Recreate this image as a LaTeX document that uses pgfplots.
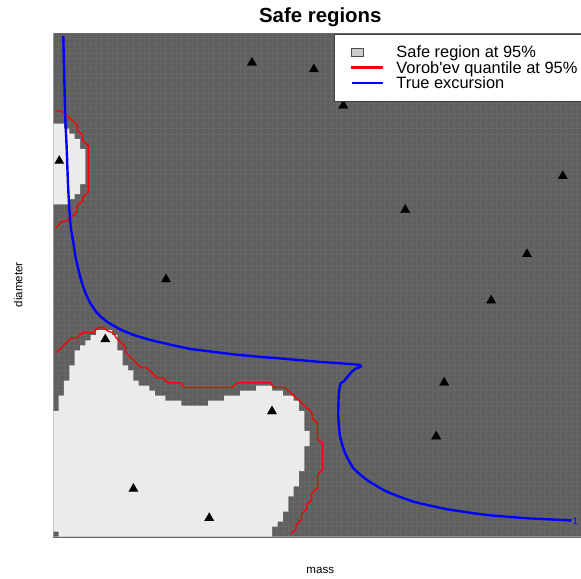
\documentclass[border=0pt]{standalone}
\usepackage{pgfplots}
\pgfplotsset{compat=1.18}
\usepackage{fontspec}
\setmainfont{Liberation Sans}
\definecolor{bgdark}{RGB}{95,95,95}
\definecolor{gridc}{RGB}{103,103,103}
\definecolor{safe}{RGB}{235,235,235}
\definecolor{legbox}{RGB}{204,204,204}
\definecolor{axisc}{RGB}{150,150,150}
\definecolor{vred}{RGB}{255,0,0}
\pgfplotsset{layers/mylayers/.define layer set={axis background,axis grid,main,axis ticks,axis lines,axis tick labels,axis descriptions,axis foreground}{}}
\pgfplotsset{every axis title shift=0pt}
\begin{document}
\begin{tikzpicture}
\begin{axis}[
 at={(0pt,0pt)}, anchor=south west,
 scale only axis, width=400.5pt, height=377.775pt,
 xmin=0, xmax=100, ymin=0, ymax=100,
 set layers=mylayers,
 axis background/.style={fill=bgdark},
 axis x line*=bottom, axis y line*=left,
 axis line style={draw=axisc, line width=0.6pt},
 xtick={0,1,...,100}, ytick={0,1,...,100},
 xticklabels={}, yticklabels={},
 major tick length=0pt,
 grid=major, major grid style={draw=gridc, line width=0.3pt},
 xlabel={mass}, ylabel={diameter},
 x label style={at={(axis description cs:0.5,-0.074)}, anchor=base, font=\fontsize{8.7}{10}\selectfont},
 y label style={at={(axis description cs:-0.0577,0.5)}, anchor=base, font=\fontsize{8.7}{10}\selectfont},
 title={Safe regions},
 title style={at={(axis description cs:0.5,1.0208)}, anchor=base, font=\bfseries\fontsize{15.3}{18}\selectfont},
 legend style={at={(rel axis cs:0.526,0.999)}, anchor=north west, draw=black!75, fill=white,
   font=\fontsize{12.3}{13}\selectfont, inner xsep=12.15pt, inner ysep=7.9pt, row sep=0pt, column sep=9.6pt,
   nodes={inner sep=0pt, text height=10.1pt, text depth=1.4pt}},
 legend cell align=left,
]
% safe region, upper left
\addplot[fill=safe, draw=none, forget plot] coordinates {
(0,66) (0,82) (2,82) (2,81) (3,81) (3,80) (4,80) (4,79) (5,79) (5,77) (6,77) (6,70) (5,70) (5,68) (4,68) (4,67) (3,67) (3,66)
};
% safe region, lower left
\addplot[fill=safe, draw=none,
  legend image code/.code={\draw[fill=legbox, draw=black!70, line width=0.4pt] (0pt,-3.15pt) rectangle (8.8pt,3.15pt); \path[draw=none,fill=none] (0pt,0pt) -- (23.25pt,0pt);}] coordinates {
(0,1) (0,25) (1,25) (1,28) (2,28) (2,31) (3,31) (3,34) (4,34) (4,37) (5,37) (5,38) (6,38) (6,39) (7,39) (7,40) (8,40) (8,41) (11,41) (11,40) (12,40) (12,37) (13,37) (13,34) (14,34) (14,33) (15,33) (15,31) (16,31) (16,30) (18,30) (18,29) (19,29) (19,28) (21,28) (21,27) (24,27) (24,26) (29,26) (29,27) (32,27) (32,28) (35,28) (35,29) (38,29) (38,30) (41,30) (41,29) (43,29) (43,28) (45,28) (45,27) (46,27) (46,25) (47,25) (47,21) (48,21) (48,18) (47,18) (47,13) (46,13) (46,10) (45,10) (45,8) (44,8) (44,5) (43,5) (43,3) (42,3) (42,2) (41,2) (41,0) (1,0) (1,1)
};
\addlegendentry{Safe region at 95\%}
% Vorob'ev quantile, upper
\addplot[draw=vred, line width=1pt, line join=round, forget plot] coordinates {
(0.51,84.50) (1.57,84.50) (2.38,83.80) (4.49,81.71) (4.49,80.68) (5.51,79.72) (5.51,78.69) (6.55,77.63) (6.55,68.41) (5.51,67.41) (5.51,66.73) (4.49,65.74) (4.49,64.54) (3.45,63.49) (2.51,62.79) (1.57,62.55) (0.51,61.43)
};
% Vorob'ev quantile, lower
\addplot[draw=vred, line width=1pt, line join=round,
  legend image code/.code={\fill[vred] (0pt,-0.4pt) rectangle (23.25pt,0.4pt);}] coordinates {
(0.51,36.53) (3.45,39.52) (4.44,39.52) (5.51,40.52) (7.49,40.52) (8.37,41.51) (9.31,41.51) (10.30,40.78) (11.24,40.52) (11.74,39.52) (13.43,37.85) (13.61,36.53) (16.42,33.55) (17.49,33.55) (19.42,31.55) (20.49,31.55) (21.48,30.56) (23.73,30.56) (24.57,29.62) (33.41,29.62) (34.40,30.56) (40.58,30.56) (41.33,29.62) (43.39,29.62) (48.39,24.70) (48.54,23.45) (49.44,22.59) (49.44,19.46) (50.41,18.47) (50.41,13.29) (49.48,12.29) (49.48,9.64) (48.39,8.65) (48.39,7.31) (47.45,6.31) (47.45,5.46) (46.44,4.52) (46.44,3.33) (45.45,2.33) (45.45,1.47) (44.42,0.54)
};
\addlegendentry{Vorob\textquotesingle ev quantile at 95\%}
% true excursion
\addplot[draw=blue, line width=1.8pt, line join=round, smooth, tension=0.3,
  legend image code/.code={\draw[draw=blue, line width=1.5pt] (0pt,0pt) -- (23.25pt,0pt);}] coordinates {
(1.87,99.4) (2.06,90.98) (2.25,83.01) (2.51,77.03) (2.75,70.06) (3.00,65.08) (3.31,61.10) (3.75,58.45) (4.16,55.52) (4.68,53.13) (5.37,50.34) (6.25,47.81) (7.06,46.16) (8.13,44.50) (9.12,43.47) (10.30,42.51) (12.49,41.18) (14.98,40.08) (18.11,39.08) (21.24,38.29) (25.60,37.29) (29.34,36.79) (33.71,36.20) (38.71,35.70) (43.07,35.34) (49.94,34.70) (53.69,34.44) (57.34,34.10) (57.57,33.71) (56.69,33.41) (55.94,32.81) (54.31,30.76) (53.82,30.52) (53.50,28.82) (53.41,27.23) (53.37,23.90) (53.69,19.92) (54.63,16.61) (56.18,13.63) (58.69,11.29) (62.43,8.96) (67.42,6.97) (73.67,5.46) (81.16,4.32) (88.65,3.67) (96.14,3.27) (97.04,3.23)
};
\addlegendentry{True excursion}
\node[text=blue, font=\fontsize{7}{7}\selectfont, inner sep=0pt] at (axis cs:97.8,3.15) {1};
% design points
\addplot[only marks, mark=triangle*, mark size=4.1pt, mark options={fill=black, draw=black, line width=0.1pt}, forget plot] coordinates {
(37.2,94.1) (48.8,92.8) (54.3,85.6) (1.12,74.6) (95.4,71.6) (65.9,64.9) (88.7,56.1) (21.1,51.1) (82.0,46.9) (9.74,39.2) (73.2,30.6) (40.95,24.9) (71.7,19.9) (15.0,9.5) (29.2,3.7)
};
\end{axis}
\pgfresetboundingbox
\path[use as bounding box] (-39.975pt,-30.975pt) rectangle (395.775pt,402.525pt);
\end{tikzpicture}
\end{document}
